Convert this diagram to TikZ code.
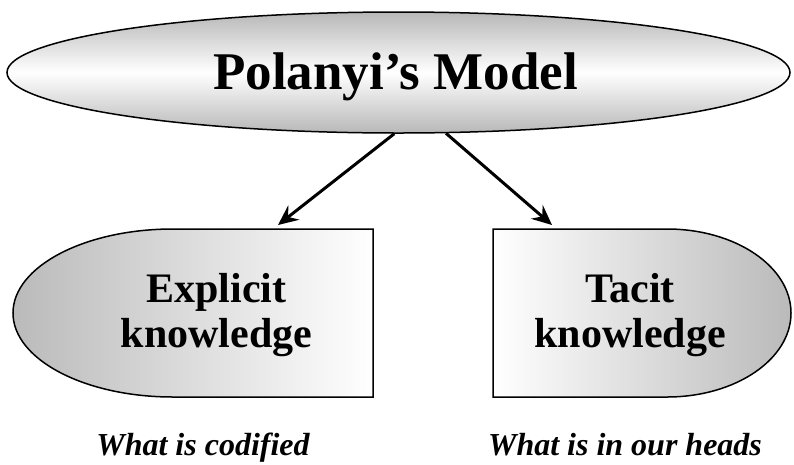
\documentclass[tikz,border=0pt]{standalone}
\usepackage{fontspec}
\setmainfont{Liberation Serif}
\usetikzlibrary{shapes.geometric,arrows.meta}

\tikzset{
  outline/.style={draw=black, line width=1.5pt},
  title/.style={font=\fontsize{53}{58}\selectfont\bfseries, anchor=base, inner sep=0pt},
  boxtext/.style={font=\fontsize{42}{48}\selectfont\bfseries, anchor=base, inner sep=0pt},
  caption/.style={font=\fontsize{32}{36}\selectfont\bfseries\itshape, anchor=base, inner sep=0pt},
  link/.style={line width=3pt, -{Stealth[length=20pt,width=18pt,inset=7pt]}},
}

\begin{document}
\begin{tikzpicture}[x=1pt,y=-1pt]
  \useasboundingbox (0,0) rectangle (794,464);

  % top ellipse
  \node[outline, ellipse, minimum width=783pt, minimum height=121pt, inner sep=0pt,
        top color=black!28, bottom color=black!28, middle color=white]
        (model) at (398.5,72.5) {};
  \node[title] (modeltext) at (395.5,89) {Polanyi’s Model};

  % left box: rounded on the left
  \draw[outline, left color=black!27, right color=white]
    (173,229) -- (373,229) -- (373,397) -- (173,397)
    arc[start angle=90, end angle=270, x radius=160, y radius=84] -- cycle;

  % right box: rounded on the right
  \draw[outline, left color=white, right color=black!27]
    (493,229) -- (667,229)
    arc[start angle=-90, end angle=90, x radius=124, y radius=84]
    -- (493,397) -- cycle;

  \node[boxtext] (exp1) at (216.5,302) {Explicit};
  \node[boxtext] (exp2) at (216.5,347) {knowledge};
  \node[boxtext] (tac1) at (630,302) {Tacit};
  \node[boxtext] (tac2) at (630,347) {knowledge};

  \node[caption] (capl) at (203,455) {What is codified};
  \node[caption] (capr) at (625,455) {What is in our heads};

  % connectors
  \coordinate (ltip) at (278,225);
  \coordinate (rtip) at (552,225);
  \draw[link] (model.-94.7) -- (ltip);
  \draw[link] (model.-52.4) -- (rtip);
\end{tikzpicture}
\end{document}
